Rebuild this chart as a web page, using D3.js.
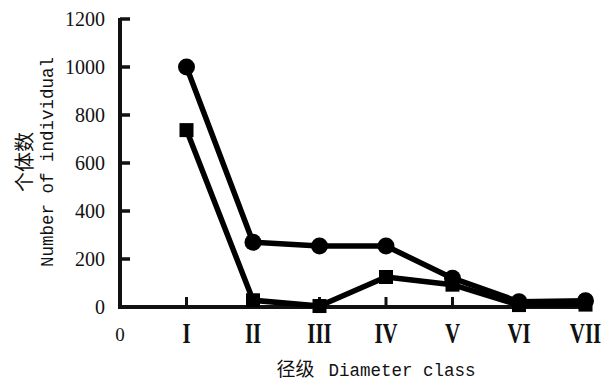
<!DOCTYPE html>
<html>
<head>
<meta charset="utf-8">
<script src="https://cdn.jsdelivr.net/npm/d3@7"></script>
<style>
  body { margin: 0; background: #fff; }
  .num { font-family: "Liberation Serif", serif; fill: #111; }
  .mono { font-family: "Liberation Mono", monospace; fill: #111; }
  .cjk { font-family: "Noto Sans CJK SC", sans-serif; fill: #111; }
</style>
</head>
<body>
<svg id="chart" width="608" height="383"></svg>
<script>
// categories along x (0 is the origin label only)
const classes = ['I', 'II', 'III', 'IV', 'V', 'VI', 'VII'];
const xLabels = ['0', 'I', 'II', 'III', 'IV', 'V', 'VI', 'VII'];
// series
const circleSeries = [1000, 270, 254, 254, 120, 22, 26];
const squareSeries = [737, 28, 4, 125, 93, 8, 10];
const yTicks = [0, 200, 400, 600, 800, 1000, 1200];

const svg = d3.select('#chart');

const x = d3.scalePoint().domain(xLabels).range([120, 585.5]);
const y = d3.scaleLinear().domain([0, 1200]).range([307, 19]);

const axisColor = '#111';

// y axis line + inward ticks
svg.append('line')
	.attr('x1', x('0')).attr('x2', x('0'))
	.attr('y1', y(1200) - 1).attr('y2', y(0) + 2)
	.attr('stroke', axisColor).attr('stroke-width', 4);

svg.selectAll('.ytick')
	.data(yTicks.filter(d => d > 0))
	.enter().append('line')
	.attr('x1', x('0')).attr('x2', x('0') + 10)
	.attr('y1', d => y(d)).attr('y2', d => y(d))
	.attr('stroke', axisColor).attr('stroke-width', 3.5);

svg.selectAll('.ylab')
	.data(yTicks)
	.enter().append('text')
	.attr('class', 'num')
	.attr('x', 105)
	.attr('y', d => y(d) + 7)
	.attr('text-anchor', 'end')
	.attr('font-size', 20)
	.text(d => d);

// x axis line + upward ticks
svg.append('line')
	.attr('x1', x('0') - 2).attr('x2', x('VII') + 5)
	.attr('y1', y(0)).attr('y2', y(0))
	.attr('stroke', axisColor).attr('stroke-width', 4);

svg.selectAll('.xtick')
	.data(classes)
	.enter().append('line')
	.attr('x1', d => x(d)).attr('x2', d => x(d))
	.attr('y1', y(0)).attr('y2', y(0) - 10)
	.attr('stroke', axisColor).attr('stroke-width', 3);

// roman numerals are tall and narrow in the original
svg.selectAll('.xlab')
	.data(xLabels)
	.enter().append('text')
	.attr('class', 'num')
	.attr('transform', d => d === '0'
		? `translate(${x(d)},341)`
		: `translate(${x(d)},343) scale(0.72,1)`)
	.attr('text-anchor', 'middle')
	.attr('font-size', d => d === '0' ? 19 : 29)
	.attr('font-weight', d => d === '0' ? 'normal' : 'bold')
	.text(d => d);

// axis titles
const xt = svg.append('text').attr('x', 376).attr('y', 376).attr('text-anchor', 'middle');
xt.append('tspan').attr('class', 'cjk').attr('font-size', 19).text('径级');
xt.append('tspan').attr('class', 'mono').attr('font-size', 17.5).attr('dx', 14).text('Diameter class');

svg.append('text')
	.attr('class', 'cjk')
	.attr('transform', 'translate(32,162) rotate(-90)')
	.attr('text-anchor', 'middle')
	.attr('font-size', 20)
	.text('个体数');

svg.append('text')
	.attr('class', 'mono')
	.attr('transform', 'translate(53,162) rotate(-90)')
	.attr('text-anchor', 'middle')
	.attr('font-size', 17.5)
	.text('Number of individual');

// series lines
const line = d3.line()
	.x((d, i) => x(classes[i]))
	.y(d => y(d));

[squareSeries, circleSeries].forEach(s => {
	svg.append('path')
		.attr('d', line(s))
		.attr('fill', 'none')
		.attr('stroke', '#000')
		.attr('stroke-width', 5.5)
		.attr('stroke-linejoin', 'round');
});

svg.selectAll('.sq')
	.data(squareSeries)
	.enter().append('rect')
	.attr('x', (d, i) => x(classes[i]) - 7)
	.attr('y', d => y(d) - 7)
	.attr('width', 14).attr('height', 14)
	.attr('fill', '#000');

svg.selectAll('.dot')
	.data(circleSeries)
	.enter().append('circle')
	.attr('cx', (d, i) => x(classes[i]))
	.attr('cy', d => y(d))
	.attr('r', 8.5)
	.attr('fill', '#000');
</script>
</body>
</html>
